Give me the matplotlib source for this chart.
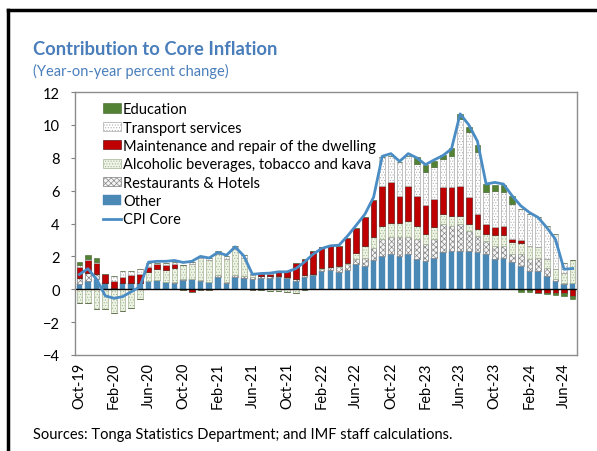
import matplotlib
matplotlib.use("Agg")
import matplotlib.pyplot as plt
import numpy as np
from matplotlib.lines import Line2D

plt.rcParams['font.family'] = ['Lato', 'DejaVu Sans']
plt.rcParams['hatch.linewidth'] = 0.45

# monthly, Oct-19 .. Jul-24
months = ['Oct-19', 'Nov-19', 'Dec-19', 'Jan-20', 'Feb-20', 'Mar-20', 'Apr-20', 'May-20',
          'Jun-20', 'Jul-20', 'Aug-20', 'Sep-20', 'Oct-20', 'Nov-20', 'Dec-20', 'Jan-21',
          'Feb-21', 'Mar-21', 'Apr-21', 'May-21', 'Jun-21', 'Jul-21', 'Aug-21', 'Sep-21',
          'Oct-21', 'Nov-21', 'Dec-21', 'Jan-22', 'Feb-22', 'Mar-22', 'Apr-22', 'May-22',
          'Jun-22', 'Jul-22', 'Aug-22', 'Sep-22', 'Oct-22', 'Nov-22', 'Dec-22', 'Jan-23',
          'Feb-23', 'Mar-23', 'Apr-23', 'May-23', 'Jun-23', 'Jul-23', 'Aug-23', 'Sep-23',
          'Oct-23', 'Nov-23', 'Dec-23', 'Jan-24', 'Feb-24', 'Mar-24', 'Apr-24', 'May-24',
          'Jun-24', 'Jul-24']

other = [0.3, 0.5, 0.6, 0.37, 0.1, 0.37, 0.37, 0.37, 0.5, 0.57, 0.45, 0.4,
         0.55, 0.6, 0.5, 0.45, 0.75, 0.35, 0.77, 0.7, 0.65, 0.7, 0.7, 0.77,
         0.71, 0.5, 0.77, 0.85, 1.12, 1.18, 1.06, 1.18, 1.52, 1.42, 1.75, 2.03,
         2.13, 2.03, 2.13, 1.87, 1.73, 1.93, 2.24, 2.34, 2.34, 2.34, 2.24, 2.13,
         1.83, 1.93, 1.63, 1.42, 1.12, 1.12, 0.81, 0.51, 0.3, 0.4]
restaurants = [0.4, 0.5, 0.3, 0, 0, 0, 0, 0, 0, 0, 0, 0.05,
               0.05, 0, 0.05, 0, 0.1, 0.1, 0.1, 0.1, 0.1, 0.1, 0.1, 0.05,
               0.05, 0.1, 0.1, 0.05, 0.1, 0.15, 0.3, 0.35, 0.3, 0.5, 0.75, 1.02,
               1.02, 1.12, 1.02, 1.18, 1.02, 1.12, 1.73, 1.52, 1.63, 1.22, 1.02, 0.81,
               0.81, 0.71, 0.51, 0.71, 0.71, 0.81, 0.51, 0.1, 0.1, 0]
alcohol = [-0.85, -0.85, -1.2, -1.22, -1.42, -1.32, -1.12, -0.6, 0.55, 0.65, 0.75, 0.85,
           0.85, 0.95, 1.35, 1.3, 1.3, 1.4, 1.6, 1.1, 0.1, -0.05, -0.1, -0.1,
           -0.15, -0.2, -0.05, 0.05, 0.05, 0, 0.05, 0.05, 0.4, 0.7, 0.65, 0.81,
           0.91, 0.91, 1.02, 0.81, 0.61, 0.71, 0.61, 0.61, 0.51, 0.41, 0.41, 0.41,
           0.65, 0.65, 0.71, 0.67, 0.81, 0.61, 0.51, 0.61, 0.6, 1.38]
maintenance = [0.67, 0.77, 0.7, 0.55, 0.4, 0.39, 0.5, 0.55, 0.33, 0.3, 0.25, 0.25,
               -0.05, -0.15, -0.05, -0.03, 0, 0, 0, 0, -0.05, 0.1, 0.12, 0.2,
               0.35, 1.0, 1.0, 1.4, 1.3, 1.3, 1.22, 1.52, 1.52, 1.75, 2.3, 2.44,
               2.44, 1.63, 2.13, 1.83, 1.77, 1.73, 1.63, 1.73, 1.83, 1.63, 0.91, 0.61,
               0.47, 0.57, 0.2, 0.2, -0.05, -0.2, -0.2, -0.25, -0.25, -0.4]
transport = [0.1, 0.08, 0.05, 0, 0.3, 0.37, 0.25, 0.3, 0.24, 0.05, 0.15, 0.1,
             0.05, 0.1, 0.15, 0.15, 0.15, 0.15, 0.15, 0.2, 0.05, 0.05, 0.05, 0.05,
             0, 0, 0, 0, 0, 0, 0, 0, 0, 0, 0, 1.73,
             1.63, 2.03, 1.83, 1.93, 1.99, 1.93, 1.73, 1.93, 4.07, 3.96, 3.76, 1.93,
             2.24, 2.07, 2.13, 1.87, 1.93, 1.83, 2.03, 2.13, 0.57, 0]
education = [0.2, 0.26, 0.26, 0, 0, 0, 0, 0, 0, 0, 0, 0,
             0, 0, 0, 0, 0, 0, 0, 0, 0, 0, 0, 0,
             0, 0, 0, 0, 0, 0, 0, 0, 0, 0, 0, 0,
             0, 0, 0, 0.41, 0.41, 0.41, 0.2, 0.45, 0.3, 0.3, 0.45, 0.51,
             0.35, 0.41, 0.51, -0.14, -0.14, -0.05, -0.1, -0.1, -0.15, -0.17]
cpi_core = [0.9, 1.25, 0.6, -0.4, -0.55, -0.45, -0.15, 0.15, 1.65, 1.7, 1.7, 1.75,
            1.63, 1.7, 2.0, 1.9, 2.24, 2.07, 2.58, 2.03, 0.91, 0.96, 0.98, 1.06,
            1.06, 1.25, 1.65, 2.13, 2.48, 2.64, 2.68, 3.25, 3.9, 4.57, 5.6, 8.09,
            8.25, 7.78, 8.25, 7.99, 7.58, 7.87, 8.13, 8.54, 10.67, 10.0, 9.0, 6.4,
            6.5, 6.4, 5.69, 5.08, 4.67, 4.37, 3.76, 3.05, 1.22, 1.26]

# bottom -> top stacking order
series = [
    ('Other', other, dict(color='#4A89B5', edgecolor='#4A89B5', linewidth=0.3)),
    ('Restaurants & Hotels', restaurants, dict(color='#F4F4F4', edgecolor='#7F7F7F', hatch='xxxxxx', linewidth=0.5)),
    ('Alcoholic beverages, tobacco and kava', alcohol, dict(color='#EEF4E4', edgecolor='#A3B295', hatch='......', linewidth=0.5)),
    ('Maintenance and repair of the dwelling', maintenance, dict(color='#C00000', edgecolor='#400000', linewidth=0.4)),
    ('Transport services', transport, dict(color='white', edgecolor='#ABABAB', hatch='......', linewidth=0.5)),
    ('Education', education, dict(color='#548235', edgecolor='#3F6128', linewidth=0.4)),
]

fig = plt.figure(figsize=(5.97, 4.52), dpi=100)
ax = fig.add_axes([75 / 597, 1 - 356 / 452, 502 / 597, 263 / 452])

x = np.arange(len(months))
pos_base = np.zeros(len(months))
neg_base = np.zeros(len(months))
handles = {}
for name, vals, style in series:
    v = np.array(vals, dtype=float)
    p = np.where(v > 0, v, 0)
    n = np.where(v < 0, v, 0)
    b = ax.bar(x, p, 0.65, bottom=pos_base, label=name, zorder=2, **style)
    ax.bar(x, n, 0.65, bottom=neg_base, zorder=2, **style)
    pos_base += p
    neg_base += n
    handles[name] = b

line, = ax.plot(x, cpi_core, color='#4A8CC4', lw=2, label='CPI Core', zorder=3)
ax.axhline(0, color='black', lw=1, zorder=2.5)

ax.set_xlim(-0.5, len(months) - 0.5)
ax.set_ylim(-4, 12)
ax.set_yticks(range(-4, 13, 2))
ax.set_xticks(x[::4])
ax.set_xticklabels(months[::4], rotation=90, fontsize=10.5)
ax.tick_params(axis='x', length=0, pad=5)
ax.tick_params(axis='y', labelsize=10.5, length=3, color='#808080', pad=8)
for s in ax.spines.values():
    s.set_color('#8C8C8C')
    s.set_linewidth(1)

order = ['Education', 'Transport services', 'Maintenance and repair of the dwelling',
         'Alcoholic beverages, tobacco and kava', 'Restaurants & Hotels', 'Other']
leg = ax.legend([handles[k] for k in order] + [line], order + ['CPI Core'],
                loc='upper left', bbox_to_anchor=(0.036, 1.0), frameon=False,
                fontsize=10.5, handlelength=1.2, handleheight=0.6, handletextpad=0.15,
                labelspacing=0.3, borderaxespad=0.3)

fig.text(33 / 597, 1 - 55 / 452, 'Contribution to Core Inflation', fontsize=13.2,
         fontweight='bold', color='#4A7EBB', va='baseline')
fig.text(33 / 597, 1 - 76 / 452, '(Year-on-year percent change)', fontsize=10.5,
         color='#4A7EBB', va='baseline')
fig.text(33 / 597, 1 - 439 / 452, 'Sources: Tonga Statistics Department; and IMF staff calculations.',
         fontsize=10.5, color='black', va='baseline')

# panel frame (left and top edges visible)
fig.add_artist(Line2D([8 / 597, 8 / 597], [0, 1 - 11 / 452], color='black', lw=2.5,
                      transform=fig.transFigure))
fig.add_artist(Line2D([8 / 597, 1], [1 - 11 / 452, 1 - 11 / 452], color='black', lw=2.5,
                      transform=fig.transFigure))

fig.savefig('out.png', dpi=100)
